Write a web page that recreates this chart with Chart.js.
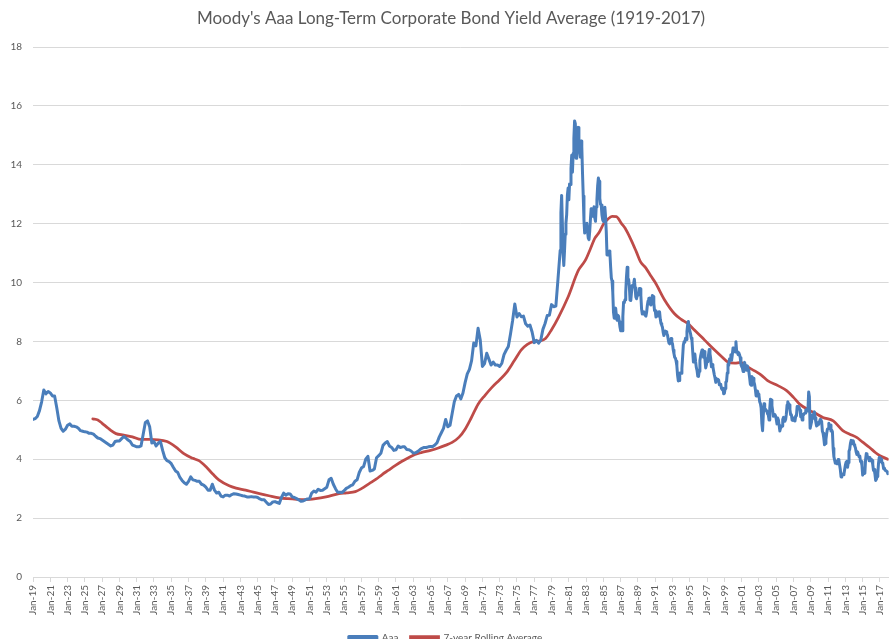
<!DOCTYPE html>
<html><head><meta charset="utf-8">
<script src="https://cdn.jsdelivr.net/npm/chart.js@4.4.1/dist/chart.umd.min.js"></script>
<style>html,body{margin:0;padding:0;overflow:hidden;background:#fff}canvas{display:block}</style>
</head><body>
<canvas id="c" width="895" height="653"></canvas>
<script>
// Moody's Aaa yield, Jan/Apr/Jul/Oct of each year 1919-1979
const aaaQuarterly1919to1979 = [
  5.35,5.38,5.45,5.65, 5.95,6.35,6.22,6.30, 6.25,6.15,6.15,5.75, 5.30,5.05,4.95,5.02,
  5.15,5.20,5.12,5.12, 5.10,5.05,4.97,4.95, 4.93,4.92,4.88,4.88, 4.85,4.78,4.72,4.70,
  4.65,4.60,4.55,4.50, 4.45,4.48,4.60,4.62, 4.62,4.70,4.77,4.72, 4.65,4.60,4.48,4.45,
  4.42,4.42,4.45,4.85, 5.25,5.30,5.10,4.55, 4.60,4.45,4.55,4.60, 4.30,4.05,3.95,3.92,
  3.85,3.72,3.60,3.55, 3.38,3.28,3.20,3.15, 3.25,3.40,3.30,3.28, 3.25,3.25,3.15,3.12,
  3.05,2.95,2.95,3.15, 2.95,2.85,2.88,2.75, 2.72,2.78,2.78,2.75, 2.80,2.83,2.82,2.80,
  2.78,2.76,2.75,2.72, 2.72,2.73,2.72,2.72, 2.70,2.65,2.62,2.62, 2.54,2.46,2.48,2.55,
  2.56,2.53,2.50,2.70, 2.85,2.78,2.83,2.82, 2.72,2.70,2.66,2.62, 2.57,2.58,2.62,2.65,
  2.66,2.85,2.92,2.88, 2.98,2.94,2.95,3.00, 3.05,3.30,3.35,3.15, 3.00,2.88,2.88,2.87,
  2.93,3.01,3.05,3.10, 3.13,3.25,3.30,3.55, 3.70,3.75,4.00,4.10, 3.60,3.62,3.67,4.05,
  4.12,4.20,4.47,4.55, 4.60,4.45,4.40,4.30, 4.32,4.45,4.40,4.42, 4.42,4.33,4.32,4.28,
  4.21,4.22,4.26,4.32, 4.37,4.40,4.40,4.42, 4.43,4.43,4.48,4.56, 4.75,4.90,5.05,5.35,
  5.10,5.15,5.55,5.95, 6.15,6.20,6.05,6.25, 6.60,6.90,7.05,7.35, 7.95,7.85,8.45,8.05,
  7.15,7.25,7.60,7.40, 7.20,7.30,7.20,7.20, 7.15,7.26,7.55,7.70, 7.83,8.25,8.72,9.27,
  8.83,8.95,8.84,8.86, 8.60,8.52,8.56,8.32, 7.96,8.04,7.94,8.04, 8.41,8.61,8.88,8.89,
  9.25,9.18,9.20,10.13
];
// Moody's Aaa yield, monthly Jan 1980 - Dec 2017
const aaaMonthly1980to2017 = [
  11.09,12.38,12.96,12.04,10.99,10.58,11.07,11.64,12.02,12.31,12.97,13.21,
  12.81,13.35,13.33,13.88,14.32,13.75,14.38,14.89,15.49,15.40,14.22,14.23,
  15.18,15.27,14.58,14.46,14.26,14.81,14.61,13.71,12.94,12.12,11.68,11.83,
  11.79,12.01,11.73,11.51,11.46,11.74,12.15,12.51,12.37,12.25,12.41,12.57,
  12.20,12.08,12.57,12.81,13.28,13.55,13.44,12.87,12.66,12.63,12.29,12.13,
  12.08,12.13,12.56,12.23,11.72,10.94,10.97,11.05,11.07,11.02,10.55,10.16,
  10.05,9.67,9.00,8.79,9.09,9.13,8.88,8.72,8.89,8.86,8.68,8.49,
  8.36,8.38,8.36,8.85,9.33,9.32,9.42,9.67,10.18,10.52,10.01,10.11,
  9.88,9.40,9.39,9.67,9.90,9.86,9.96,10.11,9.82,9.51,9.45,9.57,
  9.62,9.64,9.80,9.79,9.57,9.10,8.93,8.96,9.01,8.92,8.89,8.86,
  8.99,9.22,9.37,9.46,9.47,9.26,9.24,9.41,9.56,9.53,9.30,9.05,
  9.04,8.83,8.93,8.86,8.86,9.01,9.00,8.75,8.61,8.55,8.48,8.31,
  8.20,8.29,8.35,8.33,8.28,8.22,8.07,7.95,7.92,7.99,8.10,7.98,
  7.91,7.71,7.58,7.46,7.43,7.33,7.17,6.85,6.66,6.67,6.93,6.93,
  6.92,7.08,7.48,7.88,7.99,7.97,8.11,8.07,8.34,8.57,8.68,8.46,
  8.46,8.26,8.12,8.03,7.65,7.30,7.41,7.57,7.32,7.12,7.02,6.82,
  6.81,6.99,7.35,7.50,7.62,7.71,7.65,7.46,7.66,7.39,7.10,7.20,
  7.42,7.31,7.55,7.73,7.58,7.41,7.14,7.22,7.15,7.00,6.87,6.76,
  6.61,6.67,6.72,6.69,6.69,6.53,6.55,6.52,6.40,6.37,6.41,6.22,
  6.24,6.40,6.62,6.64,6.93,7.23,7.19,7.40,7.39,7.55,7.36,7.55,
  7.78,7.68,7.68,7.64,7.99,7.67,7.65,7.55,7.62,7.55,7.45,7.21,
  7.15,7.10,6.98,7.20,7.29,7.18,7.13,7.02,7.17,7.03,6.97,6.77,
  6.55,6.51,6.81,6.76,6.75,6.63,6.53,6.37,6.15,6.32,6.31,6.21,
  6.17,5.95,5.89,5.74,5.22,4.97,5.49,5.88,5.72,5.70,5.65,5.62,
  5.54,5.50,5.33,5.73,6.04,6.01,5.82,5.65,5.46,5.47,5.52,5.47,
  5.36,5.20,5.40,5.33,5.15,4.96,5.06,5.09,5.13,5.35,5.42,5.37,
  5.29,5.35,5.53,5.84,5.95,5.89,5.85,5.68,5.51,5.51,5.33,5.32,
  5.40,5.39,5.30,5.47,5.47,5.79,5.73,5.79,5.74,5.66,5.44,5.49,
  5.33,5.53,5.51,5.55,5.57,5.68,5.67,5.64,5.65,6.28,6.12,5.05,
  5.05,5.27,5.50,5.39,5.54,5.61,5.41,5.26,5.13,5.15,5.19,5.26,
  5.26,5.35,5.27,5.29,4.96,4.88,4.72,4.49,4.53,4.68,4.87,5.02,
  5.04,5.22,5.13,5.16,4.96,4.99,4.93,4.37,4.09,3.98,3.87,3.93,
  3.85,3.85,3.99,3.96,3.80,3.64,3.40,3.48,3.49,3.47,3.50,3.65,
  3.80,3.90,3.93,3.73,3.89,4.27,4.34,4.54,4.64,4.53,4.63,4.62,
  4.49,4.45,4.38,4.24,4.16,4.25,4.16,4.08,4.11,3.92,3.92,3.79,
  3.46,3.61,3.64,3.52,3.98,4.19,4.15,4.04,4.07,3.95,4.06,3.97,
  4.00,3.96,3.82,3.62,3.65,3.50,3.28,3.32,3.41,3.51,3.86,4.06,
  3.92,3.95,4.01,3.87,3.85,3.68,3.70,3.63,3.63,3.60,3.57,3.51
];
// 7-year rolling average, [year, value]
const rollingAverage = [
  [1925.92,5.37],[1926.5,5.33],[1927.0,5.22],[1927.5,5.10],[1928.0,4.98],[1928.6,4.87],
  [1929.5,4.82],[1930.5,4.76],[1931.5,4.67],[1932.5,4.67],[1933.5,4.66],[1934.5,4.60],
  [1935.5,4.42],[1936.5,4.18],[1937.5,4.03],[1938.2,3.95],[1939.0,3.75],[1939.8,3.50],
  [1940.5,3.30],[1941.7,3.10],[1942.5,3.02],[1943.6,2.95],[1944.5,2.88],[1945.2,2.83],
  [1946.3,2.76],[1947.5,2.69],[1948.5,2.66],[1949.5,2.64],[1950.5,2.63],[1951.7,2.66],
  [1952.9,2.72],[1954.4,2.83],[1955.3,2.86],[1956.3,2.90],[1957.0,3.00],[1957.9,3.17],
  [1958.7,3.32],[1959.4,3.48],[1960.1,3.62],[1960.9,3.78],[1961.7,3.93],[1962.5,4.06],
  [1963.2,4.16],[1964.0,4.23],[1965.0,4.30],[1965.9,4.38],[1966.7,4.47],[1967.5,4.57],
  [1968.3,4.75],[1969.0,5.02],[1969.7,5.40],[1970.5,5.87],[1971.3,6.17],[1972.1,6.44],
  [1973.0,6.70],[1973.8,6.95],[1974.7,7.35],[1975.5,7.71],[1976.2,7.90],[1977.0,8.00],
  [1977.7,8.02],[1978.3,8.10],[1979.0,8.40],[1979.8,8.82],[1980.9,9.50],[1982.1,10.41],
  [1982.9,10.75],[1983.5,11.15],[1984.0,11.50],[1984.5,11.70],[1985.0,11.98],[1985.5,12.15],
  [1986.0,12.25],[1986.5,12.24],[1987.1,12.00],[1987.5,11.85],[1988.2,11.45],[1988.8,11.05],
  [1989.3,10.70],[1989.9,10.50],[1990.5,10.22],[1991.0,10.00],[1992.1,9.40],[1993.2,8.95],
  [1994.0,8.75],[1994.8,8.60],[1995.5,8.40],[1996.4,8.14],[1997.1,7.93],[1997.9,7.70],
  [1998.7,7.48],[1999.4,7.30],[2000.2,7.26],[2000.9,7.29],[2001.6,7.15],[2002.5,7.00],
  [2003.3,6.85],[2004.0,6.67],[2005.2,6.50],[2006.2,6.33],[2007.0,6.10],[2007.7,5.87],
  [2008.9,5.65],[2009.6,5.55],[2010.4,5.42],[2011.6,5.30],[2012.7,4.97],[2013.5,4.85],
  [2014.3,4.74],[2015.0,4.58],[2015.8,4.40],[2016.5,4.22],[2017.0,4.12],[2017.92,4.00]
];
const xTickLabels = [
  'Jan-19','Jan-21','Jan-23','Jan-25','Jan-27','Jan-29','Jan-31','Jan-33','Jan-35','Jan-37',
  'Jan-39','Jan-41','Jan-43','Jan-45','Jan-47','Jan-49','Jan-51','Jan-53','Jan-55','Jan-57',
  'Jan-59','Jan-61','Jan-63','Jan-65','Jan-67','Jan-69','Jan-71','Jan-73','Jan-75','Jan-77',
  'Jan-79','Jan-81','Jan-83','Jan-85','Jan-87','Jan-89','Jan-91','Jan-93','Jan-95','Jan-97',
  'Jan-99','Jan-01','Jan-03','Jan-05','Jan-07','Jan-09','Jan-11','Jan-13','Jan-15','Jan-17'
];
const yTickValues = [0,2,4,6,8,10,12,14,16,18];
const seriesNames = ['Aaa', '7-year Rolling Average'];
const chartTitle = "Moody's Aaa Long-Term Corporate Bond Yield Average (1919-2017)";

const startYear = 1919;
const aaaPoints = aaaQuarterly1919to1979.map((v, i) => ({x: i * 3, y: v}))
  .concat(aaaMonthly1980to2017.map((v, j) => ({x: (1980 - startYear) * 12 + j, y: v})));
const rollPoints = rollingAverage.map(([yr, v]) => ({x: (yr - startYear) * 12, y: v}));

const FONT = 'Lato, "Open Sans", sans-serif';
const GRAY = '#595959';
const GRID = '#d9d9d9';

// center the title over the plot area as the original does
const titleShift = {
  id: 'titleShift',
  afterLayout(chart) {
    const t = chart.titleBlock;
    if (t) { t.left += 11; }
  }
};

new Chart(document.getElementById('c'), {
  type: 'line',
  data: {
    datasets: [
      {label: seriesNames[0], data: aaaPoints, borderColor: '#4a7ebb', backgroundColor: '#4a7ebb',
       borderWidth: 3, pointRadius: 0, tension: 0, borderJoinStyle: 'round', borderCapStyle: 'round'},
      {label: seriesNames[1], data: rollPoints, borderColor: '#be4b48', backgroundColor: '#be4b48',
       borderWidth: 2.75, pointRadius: 0, cubicInterpolationMode: 'monotone', borderCapStyle: 'round'}
    ]
  },
  plugins: [titleShift],
  options: {
    responsive: false,
    animation: false,
    devicePixelRatio: 1,
    layout: {padding: {left: 0, right: 4, top: 0, bottom: 0}},
    plugins: {
      title: {display: true, text: chartTitle, color: GRAY,
              font: {family: FONT, size: 17, weight: 'normal'}, padding: {top: 8, bottom: 18.6}},
      legend: {position: 'bottom',
               labels: {boxWidth: 28, boxHeight: 3, padding: 12, color: GRAY,
                        font: {family: FONT, size: 10}}},
      tooltip: {enabled: false}
    },
    scales: {
      x: {
        type: 'linear', min: 0, max: 1188,
        afterBuildTicks: s => { s.ticks = xTickLabels.map((l, i) => ({value: i * 24})); },
        afterFit: s => { s.height = 44; },
        ticks: {autoSkip: false, minRotation: 90, maxRotation: 90, padding: 3, color: GRAY,
                font: {family: FONT, size: 10}, callback: (v, i) => xTickLabels[i]},
        grid: {drawOnChartArea: false, drawTicks: true, tickLength: 5, color: GRID},
        border: {color: GRID}
      },
      y: {
        min: 0, max: 18,
        afterBuildTicks: s => { s.ticks = yTickValues.map(v => ({value: v})); },
        afterFit: s => { s.width = 33; },
        ticks: {padding: 11, color: GRAY, font: {family: FONT, size: 10}},
        grid: {color: GRID, drawTicks: false},
        border: {display: false}
      }
    }
  }
});
</script>
</body></html>
